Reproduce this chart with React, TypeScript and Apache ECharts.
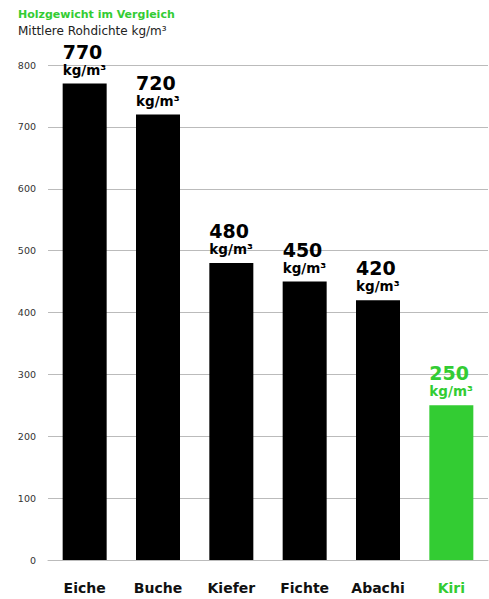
import React, { useEffect, useRef } from "react";
import * as echarts from "echarts";

const categories = ["Eiche", "Buche", "Kiefer", "Fichte", "Abachi", "Kiri"];
const values = [770, 720, 480, 450, 420, 250];
const highlight = "Kiri";
const yTicks = { min: 0, max: 800, interval: 100 };

const GREEN = "#33cc33";
const FONT = "'DejaVu Sans', Verdana, sans-serif";

export default function App() {
  const ref = useRef<HTMLDivElement>(null);
  useEffect(() => {
    if (!ref.current) return;
    const chart = echarts.init(ref.current, null, { renderer: "svg" });
    chart.setOption({
      animation: false,
      backgroundColor: "#ffffff",
      title: [
        {
          text: "Holzgewicht im Vergleich",
          left: 13,
          top: 4,
          textStyle: { color: GREEN, fontSize: 11, fontWeight: "bold", fontFamily: FONT },
        },
        {
          text: "Mittlere Rohdichte kg/m³",
          left: 13,
          top: 20,
          textStyle: { color: "#222", fontSize: 12, fontWeight: "normal", fontFamily: FONT },
        },
      ],
      grid: { left: 48, right: 1, top: 65, bottom: 39, containLabel: false },
      xAxis: {
        type: "category",
        data: categories,
        axisLine: { show: true, lineStyle: { color: "#bbbbbb", width: 1 } },
        axisTick: { show: false },
        axisLabel: {
          margin: 21,
          fontSize: 14,
          fontWeight: "bold",
          fontFamily: FONT,
          color: (v: string) => (v === highlight ? GREEN : "#111"),
        },
      },
      yAxis: {
        type: "value",
        min: yTicks.min,
        max: yTicks.max,
        interval: yTicks.interval,
        axisLine: { show: false },
        axisTick: { show: false },
        splitLine: { lineStyle: { color: "#bbbbbb", width: 1 } },
        axisLabel: { margin: 12, fontSize: 9.5, fontFamily: FONT, color: "#333" },
      },
      series: [
        {
          type: "bar",
          barWidth: 44,
          data: values.map((v, i) => ({
            value: v,
            itemStyle: { color: categories[i] === highlight ? GREEN : "#000000" },
            label: {
              show: true,
              position: "top",
              distance: 6,
              align: "left",
              offset: [-22, 0],
              formatter: "{a|" + v + "}\n{b|kg/m³}",
              rich: {
                a: {
                  fontSize: 19,
                  fontWeight: "bold",
                  fontFamily: FONT,
                  color: categories[i] === highlight ? GREEN : "#000",
                  lineHeight: 20,
                },
                b: {
                  fontSize: 13.5,
                  fontWeight: "bold",
                  fontFamily: FONT,
                  color: categories[i] === highlight ? GREEN : "#000",
                  lineHeight: 16,
                },
              },
            },
          })),
        },
      ],
    });
    return () => chart.dispose();
  }, []);
  return <div ref={ref} style={{ width: 489, height: 599, position: "absolute", left: 0, top: 0 }} />;
}
